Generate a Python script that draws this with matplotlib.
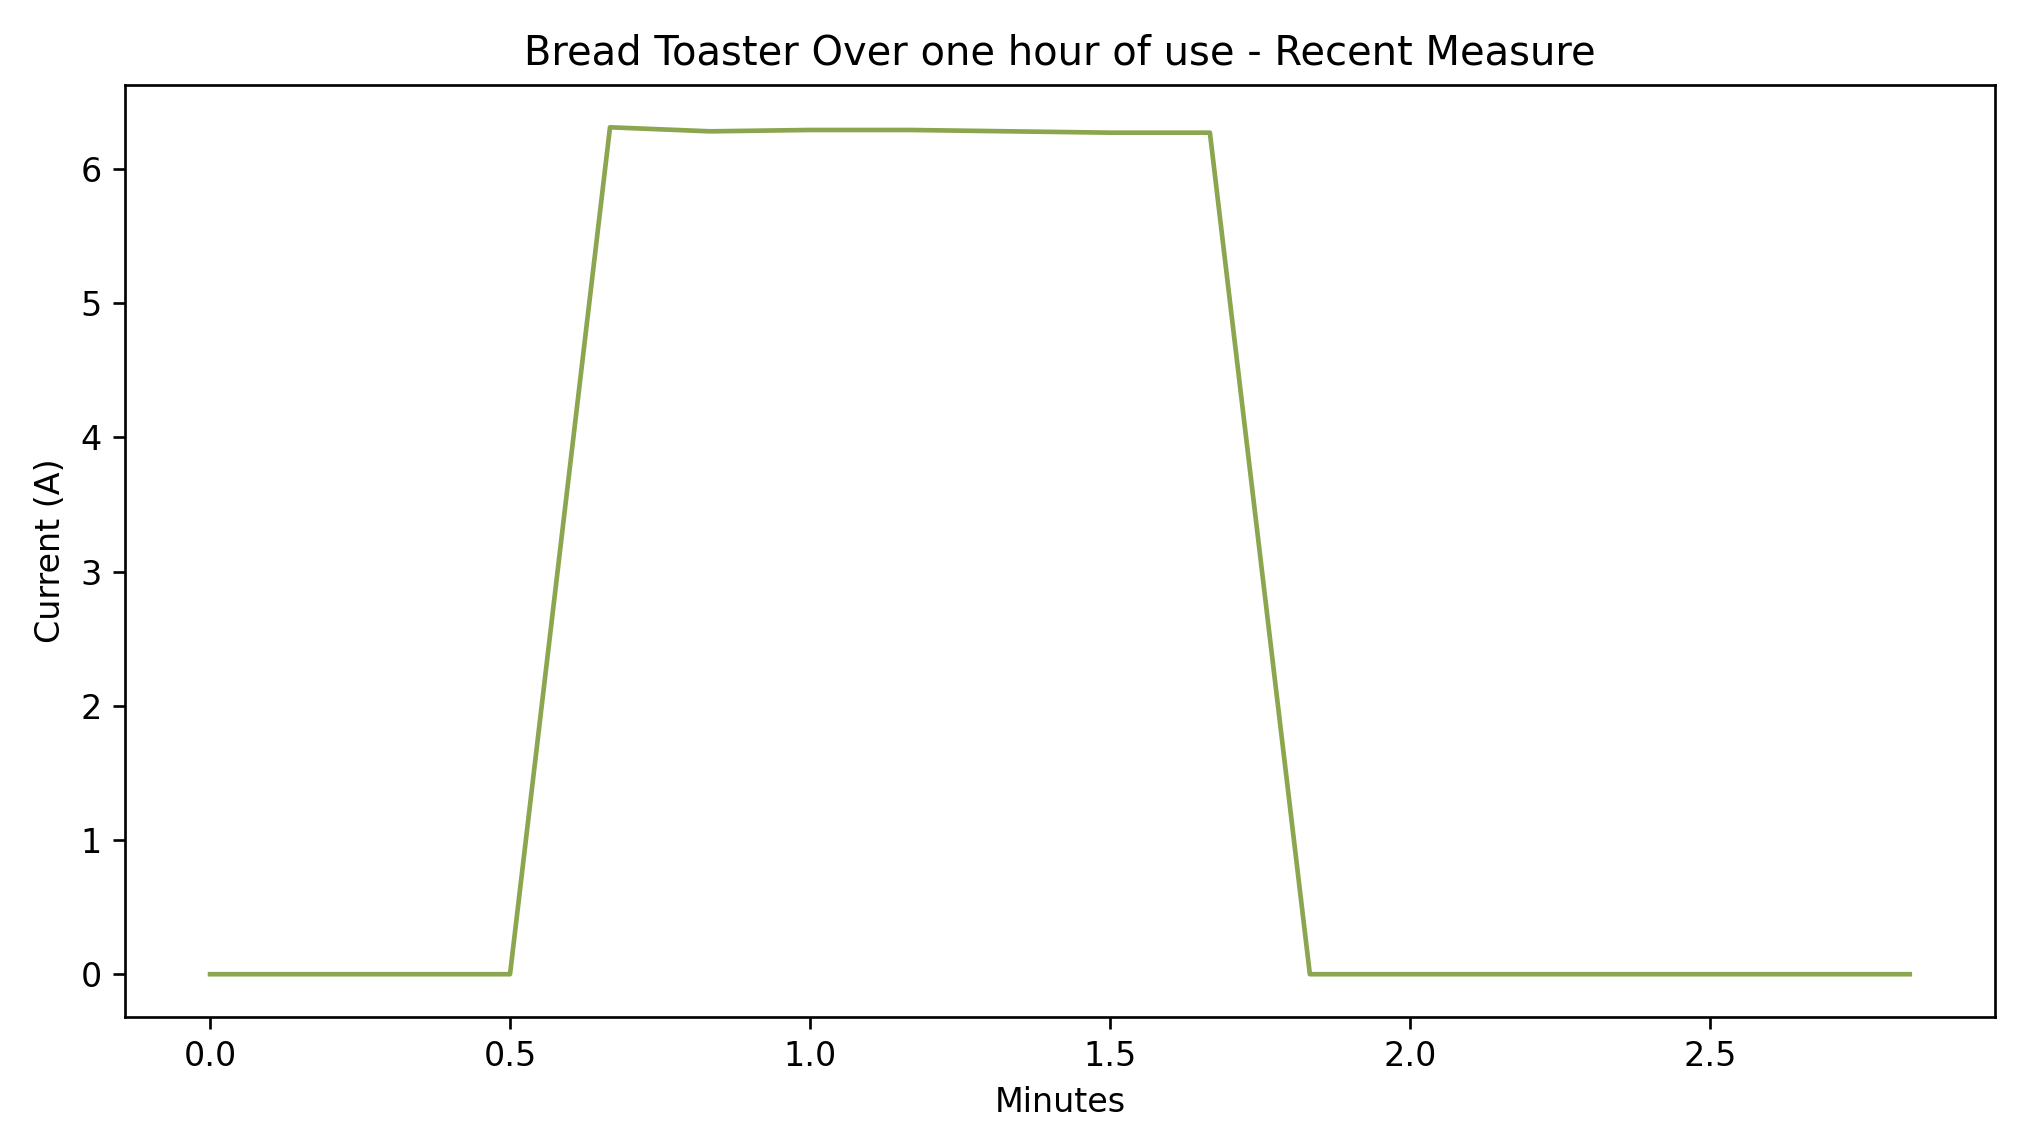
import matplotlib
matplotlib.use('Agg')
import matplotlib.pyplot as plt
import numpy as np

# Samples every 10 seconds, expressed in minutes
seconds = np.arange(0, 180, 10)
minutes = seconds / 60.0
current = [0, 0, 0, 0,
           6.31, 6.28, 6.29, 6.29, 6.28, 6.27, 6.27,
           0, 0, 0, 0, 0, 0, 0]

fig = plt.figure(figsize=(2021 / 240, 1148 / 240), dpi=240)
ax = fig.add_axes([0.0619, 0.1145, 0.9251, 0.8115])
ax.plot(minutes, current, color='#8ba64f', linewidth=1.4)
ax.set_title('Bread Toaster Over one hour of use - Recent Measure')
ax.set_xlabel('Minutes')
ax.set_ylabel('Current (A)')

fig.savefig('out.png', dpi=240)
